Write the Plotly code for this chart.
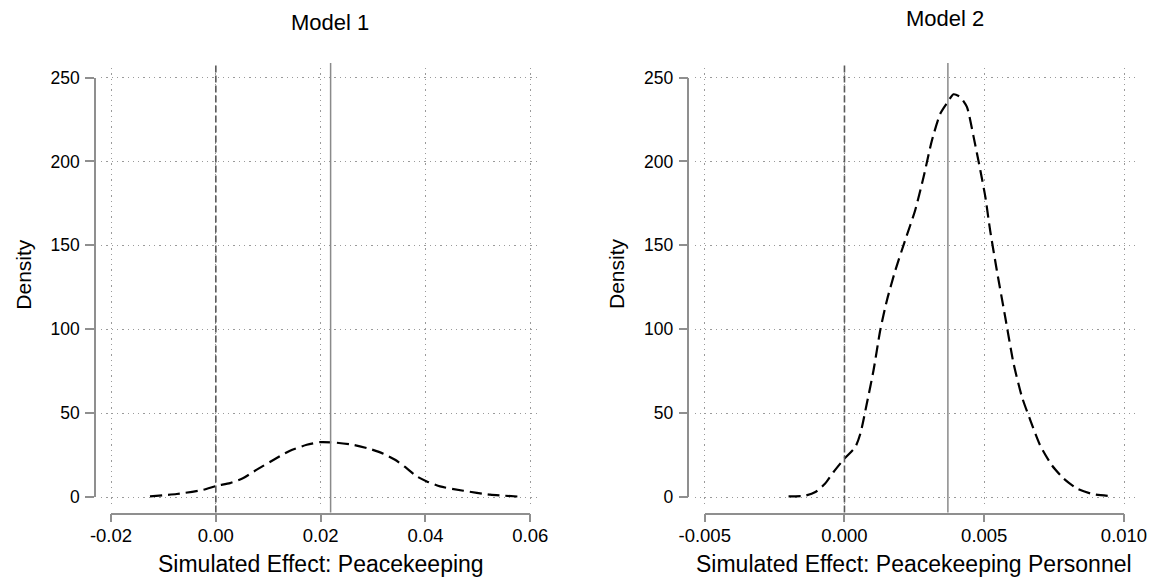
import plotly.graph_objects as go

W, H = 1151, 579

# ---------------- data ----------------
titles = ["Model 1", "Model 2"]
x_titles = ["Simulated Effect: Peacekeeping", "Simulated Effect: Peacekeeping Personnel"]
y_title = "Density"

m1_x = [-0.01256, -0.00746, -0.00239, 0.00018, 0.00271, 0.00525, 0.00781, 0.01162,
        0.01416, 0.01735, 0.01989, 0.02243, 0.02624, 0.02943, 0.03197, 0.0342,
        0.03611, 0.03834, 0.04025, 0.04279, 0.04724, 0.05233, 0.05806]
m1_y = [0.4, 1.8, 4.3, 6.7, 8.3, 11.3, 16.3, 23.2,
        27.6, 31.1, 32.7, 32.5, 31.1, 28.6, 25.8, 22.2,
        17.9, 12.3, 9.3, 6.3, 3.75, 1.4, 0.2]

m2_x = [-0.0020, -0.0014, -0.00104, -0.00069, -0.00039, 0.0, 0.00039, 0.00057,
        0.0008, 0.00104, 0.00128, 0.00152, 0.00182, 0.00217, 0.00253, 0.00283,
        0.00313, 0.00343, 0.0037, 0.0039, 0.00414, 0.00438, 0.00462, 0.00486,
        0.00504, 0.00521, 0.00545, 0.00575, 0.00605, 0.00635, 0.00665, 0.0070,
        0.00742, 0.00784, 0.00832, 0.00891, 0.00962]
m2_y = [0.4, 0.8, 3.0, 8.0, 14.9, 22.9, 29.8, 37.8,
        55.7, 75.5, 99.4, 117.3, 135.1, 153.0, 170.9, 190.7,
        212.6, 228.5, 235.5, 240.0, 238.4, 232.5, 214.6, 194.7,
        178.8, 159.0, 135.1, 107.3, 79.5, 59.6, 45.7, 30.8,
        18.9, 11.0, 5.0, 1.6, 0.4]

m1_estimate = 0.0219
m2_estimate = 0.0037
zero_ref = 0.0

m1_xticks = [-0.02, 0.0, 0.02, 0.04, 0.06]
m1_xticklabels = ["-0.02", "0.00", "0.02", "0.04", "0.06"]
m2_xticks = [-0.005, 0.0, 0.005, 0.010]
m2_xticklabels = ["-0.005", "0.000", "0.005", "0.010"]
y_ticks = [0, 50, 100, 150, 200, 250]
y_ticklabels = ["0", "50", "100", "150", "200", "250"]

# ---------------- layout geometry (pixels) ----------------
FONT = "Liberation Sans, Arial, Helvetica, sans-serif"
AX_COL = "#8f8f8f"
GRID_COL = "#9a9a9a"

def px(v):
    return v / W

def py(v):
    return 1 - v / H

panels = [
    dict(xt=m1_xticks, xl=m1_xticklabels, x=m1_x, y=m1_y, est=m1_estimate,
         yaxis_px=96.0, t0_px=111.0, t1_px=530.3, d0_px=101.0, d1_px=541.0,
         title_xy=(330, 23), xtitle_y=564, ytitle_x=22.7),
    dict(xt=m2_xticks, xl=m2_xticklabels, x=m2_x, y=m2_y, est=m2_estimate,
         yaxis_px=689.4, t0_px=704.7, t1_px=1124.0, d0_px=694.5, d1_px=1134.5,
         title_xy=(945, 18), xtitle_y=564, ytitle_x=616.0),
]

Y0_PX, Y250_PX = 497.0, 77.5       # pixel rows of y ticks 0 and 250
YD_TOP, YD_BOT = 68.0, 505.0       # data plot region rows
XAXIS_ROW = 512.5                  # row of the x axis line
REF_TOP = 63.0                     # top of reference lines

def y_val(row):
    return (Y0_PX - row) / (Y0_PX - Y250_PX) * (y_ticks[-1] - y_ticks[0]) + y_ticks[0]

fig = go.Figure()
layout = dict(
    template="none",
    width=W, height=H,
    margin=dict(l=0, r=0, t=0, b=0, pad=0, autoexpand=False),
    paper_bgcolor="white", plot_bgcolor="white",
    showlegend=False,
    font=dict(family=FONT, color="black"),
    shapes=[], annotations=[],
)

for i, p in enumerate(panels):
    dx, dy = f"x{'' if i == 0 else i + 1}", f"y{'' if i == 0 else i + 1}"
    ax_x = f"xaxis{'' if i == 0 else i + 1}"
    ax_y = f"yaxis{'' if i == 0 else i + 1}"
    t0, t1 = p["xt"][0], p["xt"][-1]
    scale = (t1 - t0) / (p["t1_px"] - p["t0_px"])
    r0 = t0 + (p["d0_px"] - p["t0_px"]) * scale
    r1 = t0 + (p["d1_px"] - p["t0_px"]) * scale

    grid = dict(showgrid=True, gridcolor=GRID_COL, gridwidth=1.3, griddash="1.3px,4px",
                showticklabels=False, ticks="", showline=False, zeroline=False,
                automargin=False)
    layout[ax_x] = dict(domain=[px(p["d0_px"]), px(p["d1_px"])], range=[r0, r1],
                        anchor=dy, tickvals=p["xt"], **grid)
    layout[ax_y] = dict(domain=[py(YD_BOT), py(YD_TOP)], range=[y_val(YD_BOT), y_val(YD_TOP)],
                        anchor=dx, tickvals=y_ticks, **grid)

    xa, ya = 3 + 2 * i, 4 + 2 * i   # x display axis and its helper y
    xb, yb = 7 + 2 * i, 8 + 2 * i   # helper x and y display axis
    axstyle = dict(ticks="outside", tickwidth=1.5, tickcolor=AX_COL,
                   showline=True, linecolor=AX_COL, linewidth=1.5,
                   showgrid=False, zeroline=False, automargin=False)
    layout[f"xaxis{xa}"] = dict(domain=[px(p["t0_px"]), px(p["t1_px"])], range=[t0, t1],
                                anchor=f"y{ya}", tickvals=p["xt"], ticktext=p["xl"],
                                ticklen=8, ticklabelstandoff=-2,
                                tickfont=dict(size=18.5, color="black", family=FONT),
                                **axstyle)
    layout[f"yaxis{ya}"] = dict(domain=[py(XAXIS_ROW), py(XAXIS_ROW) + 0.002], anchor=f"x{xa}",
                                visible=False, range=[0, 1], automargin=False)
    layout[f"yaxis{yb}"] = dict(domain=[py(Y0_PX), py(Y250_PX)], range=[y_ticks[0], y_ticks[-1]],
                                anchor=f"x{xb}", tickvals=y_ticks, ticktext=y_ticklabels,
                                ticklen=9, ticklabelstandoff=2,
                                tickfont=dict(size=17.5, color="black", family=FONT),
                                **axstyle)
    layout[f"xaxis{xb}"] = dict(domain=[px(p["yaxis_px"]), px(p["yaxis_px"]) + 0.002],
                                anchor=f"y{yb}", visible=False, range=[0, 1], automargin=False)
    fig.add_trace(go.Scatter(x=[], y=[], xaxis=f"x{xa}", yaxis=f"y{ya}", hoverinfo="skip"))
    fig.add_trace(go.Scatter(x=[], y=[], xaxis=f"x{xb}", yaxis=f"y{yb}", hoverinfo="skip"))

    # density curve
    fig.add_trace(go.Scatter(x=p["x"], y=p["y"], mode="lines", xaxis=dx, yaxis=dy,
                             line=dict(color="black", width=2.2, dash="12px,6px",
                                       shape="spline", smoothing=0.6)))

    # reference lines
    layout["shapes"].append(dict(type="line", xref=dx, yref="paper",
                                 x0=zero_ref, x1=zero_ref, y0=py(XAXIS_ROW), y1=py(REF_TOP),
                                 line=dict(color="#5a5a5a", width=1.6, dash="7px,3px")))
    layout["shapes"].append(dict(type="line", xref=dx, yref="paper",
                                 x0=p["est"], x1=p["est"], y0=py(XAXIS_ROW), y1=py(REF_TOP),
                                 line=dict(color="#8a8a8a", width=1.5)))

    # titles
    layout["annotations"].append(dict(text=titles[i], xref="paper", yref="paper",
                                      x=px(p["title_xy"][0]), y=py(p["title_xy"][1]),
                                      xanchor="center", yanchor="middle", showarrow=False,
                                      font=dict(size=22, color="black", family=FONT)))
    layout["annotations"].append(dict(text=x_titles[i], xref="paper", yref="paper",
                                      x=px((p["t0_px"] + p["t1_px"]) / 2), y=py(p["xtitle_y"]),
                                      xanchor="center", yanchor="middle", showarrow=False,
                                      font=dict(size=23, color="black", family=FONT)))
    layout["annotations"].append(dict(text=y_title, xref="paper", yref="paper",
                                      x=px(p["ytitle_x"]), y=py(274), textangle=-90,
                                      xanchor="center", yanchor="middle", showarrow=False,
                                      font=dict(size=21, color="black", family=FONT)))

fig.update_layout(**layout)
fig.write_html("out.html",
               config={"displayModeBar": False},
               post_script="document.body.style.margin='0px';document.body.style.overflow='hidden';")
